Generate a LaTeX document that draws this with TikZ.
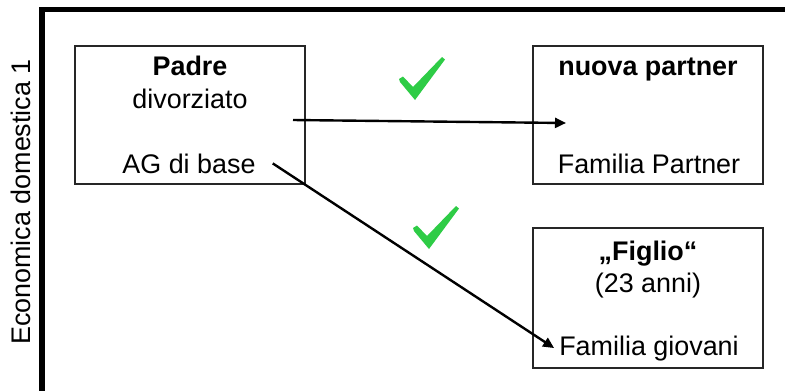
\documentclass[tikz,border=0pt]{standalone}
\usepackage{fontspec}
\setmainfont{Liberation Sans}
\usetikzlibrary{arrows.meta}
\definecolor{tickgreen}{RGB}{46,204,70}
\tikzset{
  box/.style={draw=black!85, line width=1.1bp, minimum width=230bp, inner sep=0pt},
  lbl/.style={font=\fontsize{27}{32}\selectfont, anchor=base, inner sep=0pt},
  bold/.style={font=\fontsize{27}{32}\selectfont\bfseries},
  conn/.style={line width=2.4bp, -{Triangle[length=11bp,width=10bp]}},
  tick/.pic={\fill[tickgreen] (0,22) -- (4,19.5) -- (14,30) -- (43,0) -- (46,2.5) -- (16,43) -- (1,25) -- cycle;}
}
\begin{document}
\begin{tikzpicture}[x=1bp,y=-1bp]
  \useasboundingbox (0,0) rectangle (785,390);
  \clip (0,0) rectangle (785,390);
  \fill[white] (0,0) rectangle (785,390);

  % outer household frame
  \draw[line width=5.5bp, line join=miter] (42,400) -- (42,9.5) -- (800,9.5);
  \node[lbl, anchor=base, rotate=90] (hh) at (30,202) {Economica domestica 1};

  % boxes
  \node[box, minimum height=138bp] (bpadre) at (190,115) {};
  \node[box, minimum height=138bp] (bpartner) at (648,115) {};
  \node[box, minimum height=140bp] (bfiglio) at (648,298) {};

  % texts of the father's box
  \node[lbl, bold] (padre) at (190,75) {Padre};
  \node[lbl] (div) at (190,108) {divorziato};
  \node[lbl, inner xsep=17bp] (ag) at (189,173) {AG di base};

  % texts of the partner's box
  \node[lbl, bold] (np) at (648,75) {nuova partner};
  \node[lbl] (fp) at (649,173) {Familia Partner};

  % texts of the son's box
  \node[lbl, bold] (fig) at (648,260) {„Figlio“};
  \node[lbl] (age) at (648,292) {(23 anni)};
  \node[lbl, inner xsep=5bp] (fg) at (649,355) {Familia giovani};

  % connectors
  \coordinate (a1s) at (293,120);
  \coordinate (a1e) at (566,123);
  \draw[conn] (a1s) -- (a1e);
  \draw[conn] (ag.east) -- (fg.west);

  % check marks
  \pic at (399,57) {tick};
  \pic at (413,206) {tick};
\end{tikzpicture}
\end{document}
